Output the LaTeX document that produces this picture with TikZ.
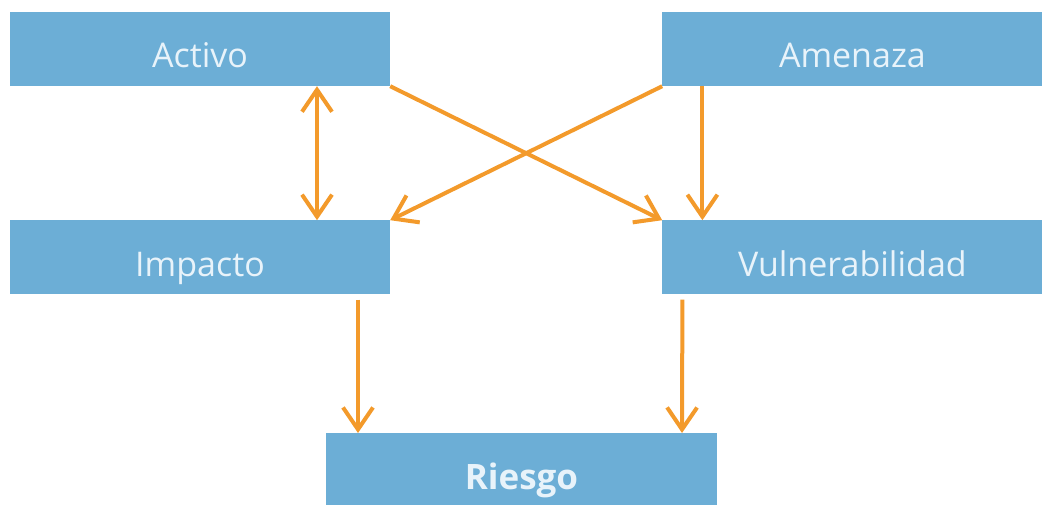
\documentclass[tikz,border=0pt]{standalone}
\usepackage{fontspec}
\setmainfont{Open Sans}
\usetikzlibrary{positioning,arrows.meta}
\definecolor{cajaazul}{RGB}{108,174,214}
\definecolor{textoazul}{RGB}{232,243,250}
\definecolor{flechanaranja}{RGB}{243,154,43}
\tikzset{
  >={Straight Barb[length=22pt,width=30pt]},
  caja/.style={
    rectangle,
    fill=cajaazul,
    text=textoazul,
    minimum width=380pt,
    minimum height=74pt,
    inner sep=0pt,
    text height=38pt, text depth=0pt,
    font=\fontsize{34}{40}\selectfont},
  link/.style={draw=flechanaranja, line width=4pt, ->},
}

\begin{document}
\begin{tikzpicture}
  [node distance=134pt and 272pt]
  \useasboundingbox (0,0) rectangle (1043pt,504pt);
  % fila superior
  \node[caja] (activo) at (200pt,455pt) {Activo};
  \node[caja, right=of activo] (amenaza) {Amenaza};
  % fila central
  \node[caja, below=of activo] (impacto) {Impacto};
  \node[caja, below=of amenaza] (vulner) {Vulnerabilidad};
  % resultado
  \node[caja, minimum width=391pt, anchor=north,
    font=\fontsize{35}{40}\selectfont\bfseries] (riesgo) at (521.5pt,71pt) {Riesgo};

  %% flechas
  \draw[link, <->] ([xshift=117pt]activo.south) -- ([xshift=117pt]impacto.north);
  \draw[link] (activo.south east) -- (vulner.north west);
  \draw[link] (amenaza.south west) -- (impacto.north east);
  \draw[link] ([xshift=-150pt]amenaza.south) -- ([xshift=-150pt]vulner.north);
  \draw[link] ([xshift=158pt,yshift=-5pt]impacto.south) -- ([xshift=-163.5pt]riesgo.north);
  \draw[link] ([xshift=-170pt,yshift=-5pt]vulner.south) -- ([xshift=160.5pt]riesgo.north);
\end{tikzpicture}
\end{document}
